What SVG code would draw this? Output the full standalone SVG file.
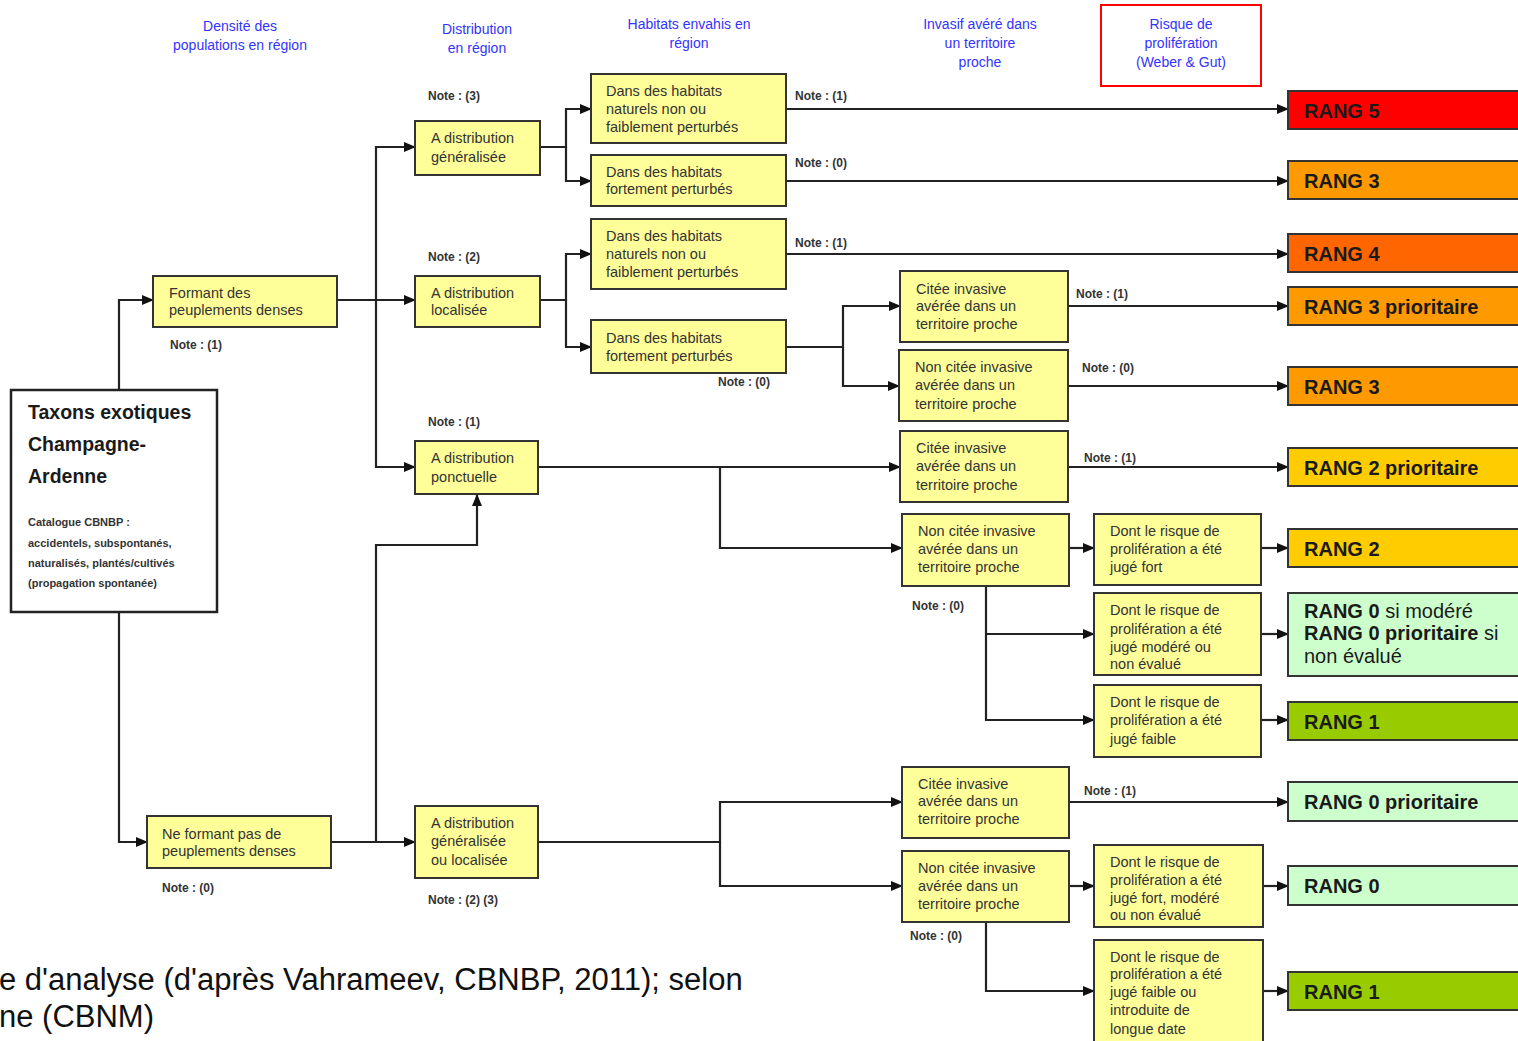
<svg xmlns="http://www.w3.org/2000/svg" width="1518" height="1041" viewBox="0 0 1518 1041">
<style>
.hdr{font-family:"Liberation Sans",Arial,sans-serif;font-size:14px;fill:#3333ff;text-anchor:middle}
.box{fill:#ffff99;stroke:#333;stroke-width:2}
.bt{font-family:"Liberation Sans",Arial,sans-serif;font-size:14.5px;fill:#333}
.note{font-family:"Liberation Sans",Arial,sans-serif;font-size:12px;font-weight:bold;fill:#333}
.rk{stroke:#333;stroke-width:2}
.rt{font-family:"Liberation Sans",Arial,sans-serif;font-size:20px;font-weight:bold;fill:#1a1a1a}
.rn{font-weight:normal}
.ln{fill:none;stroke:#222;stroke-width:2.2}
.ar{marker-end:url(#ah)}
.cap{font-family:"Liberation Sans",Arial,sans-serif;font-size:31px;fill:#111}
</style>
<defs>
<marker id="ah" markerUnits="userSpaceOnUse" markerWidth="12" markerHeight="12" viewBox="0 0 12 12" refX="11" refY="6" orient="auto">
<path d="M0,1 L12,6 L0,11 z" fill="#111"/>
</marker>
</defs>
<rect width="1518" height="1041" fill="#fff"/>

<g id="headers">
<text class="hdr" x="240" y="31">Densité des</text>
<text class="hdr" x="240" y="50">populations en région</text>
<text class="hdr" x="477" y="34">Distribution</text>
<text class="hdr" x="477" y="53">en région</text>
<text class="hdr" x="689" y="29">Habitats envahis en</text>
<text class="hdr" x="689" y="48">région</text>
<text class="hdr" x="980" y="29">Invasif avéré dans</text>
<text class="hdr" x="980" y="48">un territoire</text>
<text class="hdr" x="980" y="67">proche</text>
<rect x="1101" y="5" width="160" height="81" fill="none" stroke="#ff0000" stroke-width="2"/>
<text class="hdr" x="1181" y="29">Risque de</text>
<text class="hdr" x="1181" y="48">prolifération</text>
<text class="hdr" x="1181" y="67">(Weber &amp; Gut)</text>
</g>

<g id="connectors">
<path class="ln ar" d="M119,390 V300 H153"/>
<path class="ln ar" d="M119,612 V842 H147"/>
<path class="ln ar" d="M337,300 H415"/>
<path class="ln ar" d="M376,300 V147 H415"/>
<path class="ln ar" d="M376,300 V467 H415"/>
<path class="ln ar" d="M331,842 H415"/>
<path class="ln ar" d="M376,842 V545 H477 V495"/>
<path class="ln ar" d="M540,147 H566 V109 H591"/>
<path class="ln ar" d="M566,147 V181 H591"/>
<path class="ln ar" d="M540,300 H566 V254 H591"/>
<path class="ln ar" d="M566,300 V347 H591"/>
<path class="ln ar" d="M786,109 H1288"/>
<path class="ln ar" d="M786,181 H1288"/>
<path class="ln ar" d="M786,254 H1288"/>
<path class="ln ar" d="M786,347 H843 V306 H900"/>
<path class="ln ar" d="M843,347 V386 H899"/>
<path class="ln ar" d="M1068,306 H1288"/>
<path class="ln ar" d="M1068,386 H1288"/>
<path class="ln ar" d="M1068,467 H1288"/>
<path class="ln ar" d="M538,467 H900"/>
<path class="ln ar" d="M720,467 V548 H902"/>
<path class="ln ar" d="M538,842 H720 V802 H902"/>
<path class="ln ar" d="M720,842 V886 H902"/>
<path class="ln ar" d="M1069,802 H1288"/>
<path class="ln ar" d="M1069,548 H1094"/>
<path class="ln ar" d="M986,586 V720 H1094"/>
<path class="ln ar" d="M986,634 H1094"/>
<path class="ln ar" d="M1069,886 H1094"/>
<path class="ln ar" d="M986,922 V991 H1094"/>
<path class="ln ar" d="M1261,548 H1288"/>
<path class="ln ar" d="M1261,634 H1288"/>
<path class="ln ar" d="M1261,720 H1288"/>
<path class="ln ar" d="M1263,886 H1288"/>
<path class="ln ar" d="M1263,991 H1288"/>
</g>

<g id="notes">
<text class="note" x="428" y="100">Note : (3)</text>
<text class="note" x="428" y="261">Note : (2)</text>
<text class="note" x="428" y="426">Note : (1)</text>
<text class="note" x="428" y="904">Note : (2) (3)</text>
<text class="note" x="170" y="349">Note : (1)</text>
<text class="note" x="162" y="892">Note : (0)</text>
<text class="note" x="795" y="100">Note : (1)</text>
<text class="note" x="795" y="167">Note : (0)</text>
<text class="note" x="795" y="247">Note : (1)</text>
<text class="note" x="718" y="386">Note : (0)</text>
<text class="note" x="1076" y="298">Note : (1)</text>
<text class="note" x="1082" y="372">Note : (0)</text>
<text class="note" x="1084" y="462">Note : (1)</text>
<text class="note" x="912" y="610">Note : (0)</text>
<text class="note" x="1084" y="795">Note : (1)</text>
<text class="note" x="910" y="940">Note : (0)</text>
</g>

<g id="taxons">
<rect x="11" y="390" width="206" height="222" fill="#fff" stroke="#222" stroke-width="2.5"/>
<text x="28" y="419" font-family="Liberation Sans,Arial,sans-serif" font-size="19.5" font-weight="bold" fill="#1a1a1a">Taxons exotiques</text>
<text x="28" y="451" font-family="Liberation Sans,Arial,sans-serif" font-size="19.5" font-weight="bold" fill="#1a1a1a">Champagne-</text>
<text x="28" y="483" font-family="Liberation Sans,Arial,sans-serif" font-size="19.5" font-weight="bold" fill="#1a1a1a">Ardenne</text>
<text x="28" y="526" font-family="Liberation Sans,Arial,sans-serif" font-size="11" font-weight="bold" fill="#333">Catalogue CBNBP :</text>
<text x="28" y="547" font-family="Liberation Sans,Arial,sans-serif" font-size="11" font-weight="bold" fill="#333">accidentels, subspontanés,</text>
<text x="28" y="567" font-family="Liberation Sans,Arial,sans-serif" font-size="11" font-weight="bold" fill="#333">naturalisés, plantés/cultivés</text>
<text x="28" y="587" font-family="Liberation Sans,Arial,sans-serif" font-size="11" font-weight="bold" fill="#333">(propagation  spontanée)</text>
</g>

<g id="formant">
<rect class="box" x="153" y="276" width="184" height="51"/>
<text class="bt" x="169" y="298">Formant des</text>
<text class="bt" x="169" y="315">peuplements denses</text>
</g>
<g id="neformant">
<rect class="box" x="147" y="816" width="184" height="52"/>
<text class="bt" x="162" y="839">Ne formant pas de</text>
<text class="bt" x="162" y="856">peuplements denses</text>
</g>

<g id="dist-gen">
<rect class="box" x="415" y="121" width="125" height="54"/>
<text class="bt" x="431" y="143">A distribution</text>
<text class="bt" x="431" y="162">généralisée</text>
</g>
<g id="dist-loc">
<rect class="box" x="415" y="276" width="125" height="51"/>
<text class="bt" x="431" y="298">A distribution</text>
<text class="bt" x="431" y="315">localisée</text>
</g>
<g id="dist-ponct">
<rect class="box" x="415" y="441" width="123" height="53"/>
<text class="bt" x="431" y="463">A distribution</text>
<text class="bt" x="431" y="482">ponctuelle</text>
</g>
<g id="dist-genloc">
<rect class="box" x="415" y="806" width="123" height="72"/>
<text class="bt" x="431" y="828">A distribution</text>
<text class="bt" x="431" y="846">généralisée</text>
<text class="bt" x="431" y="865">ou localisée</text>
</g>

<g id="hab1">
<rect class="box" x="591" y="74" width="195" height="69"/>
<text class="bt" x="606" y="96">Dans des habitats</text>
<text class="bt" x="606" y="114">naturels non ou</text>
<text class="bt" x="606" y="132">faiblement perturbés</text>
</g>
<g id="hab2">
<rect class="box" x="591" y="155" width="195" height="51"/>
<text class="bt" x="606" y="177">Dans des habitats</text>
<text class="bt" x="606" y="194">fortement perturbés</text>
</g>
<g id="hab3">
<rect class="box" x="591" y="219" width="195" height="70"/>
<text class="bt" x="606" y="241">Dans des habitats</text>
<text class="bt" x="606" y="259">naturels non ou</text>
<text class="bt" x="606" y="277">faiblement perturbés</text>
</g>
<g id="hab4">
<rect class="box" x="591" y="320" width="195" height="53"/>
<text class="bt" x="606" y="343">Dans des habitats</text>
<text class="bt" x="606" y="361">fortement perturbés</text>
</g>

<g id="cit1">
<rect class="box" x="900" y="271" width="168" height="71"/>
<text class="bt" x="916" y="294">Citée invasive</text>
<text class="bt" x="916" y="311">avérée dans un</text>
<text class="bt" x="916" y="329">territoire proche</text>
</g>
<g id="non1">
<rect class="box" x="899" y="350" width="169" height="71"/>
<text class="bt" x="915" y="372">Non citée invasive</text>
<text class="bt" x="915" y="390">avérée dans un</text>
<text class="bt" x="915" y="409">territoire proche</text>
</g>
<g id="cit2">
<rect class="box" x="900" y="431" width="168" height="71"/>
<text class="bt" x="916" y="453">Citée invasive</text>
<text class="bt" x="916" y="471">avérée dans un</text>
<text class="bt" x="916" y="490">territoire proche</text>
</g>
<g id="non2">
<rect class="box" x="902" y="514" width="167" height="72"/>
<text class="bt" x="918" y="536">Non citée invasive</text>
<text class="bt" x="918" y="554">avérée dans un</text>
<text class="bt" x="918" y="572">territoire proche</text>
</g>
<g id="cit3">
<rect class="box" x="902" y="767" width="167" height="71"/>
<text class="bt" x="918" y="789">Citée invasive</text>
<text class="bt" x="918" y="806">avérée dans un</text>
<text class="bt" x="918" y="824">territoire proche</text>
</g>
<g id="non3">
<rect class="box" x="902" y="851" width="167" height="71"/>
<text class="bt" x="918" y="873">Non citée invasive</text>
<text class="bt" x="918" y="891">avérée dans un</text>
<text class="bt" x="918" y="909">territoire proche</text>
</g>

<g id="risk1">
<rect class="box" x="1094" y="514" width="167" height="71"/>
<text class="bt" x="1110" y="536">Dont le risque de</text>
<text class="bt" x="1110" y="554">prolifération a été</text>
<text class="bt" x="1110" y="572">jugé fort</text>
</g>
<g id="risk2">
<rect class="box" x="1094" y="593" width="167" height="82"/>
<text class="bt" x="1110" y="615">Dont le risque de</text>
<text class="bt" x="1110" y="634">prolifération a été</text>
<text class="bt" x="1110" y="652">jugé modéré ou</text>
<text class="bt" x="1110" y="669">non évalué</text>
</g>
<g id="risk3">
<rect class="box" x="1094" y="685" width="167" height="72"/>
<text class="bt" x="1110" y="707">Dont le risque de</text>
<text class="bt" x="1110" y="725">prolifération a été</text>
<text class="bt" x="1110" y="744">jugé faible</text>
</g>
<g id="risk4">
<rect class="box" x="1094" y="845" width="169" height="82"/>
<text class="bt" x="1110" y="867">Dont le risque de</text>
<text class="bt" x="1110" y="885">prolifération a été</text>
<text class="bt" x="1110" y="903">jugé fort, modéré</text>
<text class="bt" x="1110" y="920">ou non évalué</text>
</g>
<g id="risk5">
<rect class="box" x="1094" y="940" width="169" height="106"/>
<text class="bt" x="1110" y="962">Dont le risque de</text>
<text class="bt" x="1110" y="979">prolifération a été</text>
<text class="bt" x="1110" y="997">jugé faible ou</text>
<text class="bt" x="1110" y="1015">introduite de</text>
<text class="bt" x="1110" y="1034">longue date</text>
</g>

<g id="rang5"><rect class="rk" x="1288" y="91" width="240" height="38" fill="#ff0000"/><text class="rt" x="1304" y="118">RANG 5</text></g>
<g id="rang3a"><rect class="rk" x="1288" y="161" width="240" height="38" fill="#ff9900"/><text class="rt" x="1304" y="188">RANG 3</text></g>
<g id="rang4"><rect class="rk" x="1288" y="234" width="240" height="38" fill="#ff6600"/><text class="rt" x="1304" y="261">RANG 4</text></g>
<g id="rang3p"><rect class="rk" x="1288" y="287" width="240" height="38" fill="#ff9900"/><text class="rt" x="1304" y="314">RANG 3 prioritaire</text></g>
<g id="rang3b"><rect class="rk" x="1288" y="367" width="240" height="38" fill="#ff9900"/><text class="rt" x="1304" y="394">RANG 3</text></g>
<g id="rang2p"><rect class="rk" x="1288" y="448" width="240" height="38" fill="#ffcc00"/><text class="rt" x="1304" y="475">RANG 2 prioritaire</text></g>
<g id="rang2"><rect class="rk" x="1288" y="529" width="240" height="38" fill="#ffcc00"/><text class="rt" x="1304" y="556">RANG 2</text></g>
<g id="rang0m"><rect class="rk" x="1288" y="593" width="240" height="83" fill="#ccffcc"/>
<text class="rt" x="1304" y="618">RANG 0<tspan class="rn"> si modéré</tspan></text>
<text class="rt" x="1304" y="640">RANG 0 prioritaire<tspan class="rn"> si</tspan></text>
<text class="rt" x="1304" y="663"><tspan class="rn">non évalué</tspan></text></g>
<g id="rang1a"><rect class="rk" x="1288" y="702" width="240" height="38" fill="#99cc00"/><text class="rt" x="1304" y="729">RANG 1</text></g>
<g id="rang0p"><rect class="rk" x="1288" y="782" width="240" height="39" fill="#ccffcc"/><text class="rt" x="1304" y="809">RANG 0 prioritaire</text></g>
<g id="rang0"><rect class="rk" x="1288" y="866" width="240" height="39" fill="#ccffcc"/><text class="rt" x="1304" y="893">RANG 0</text></g>
<g id="rang1b"><rect class="rk" x="1288" y="972" width="240" height="38" fill="#99cc00"/><text class="rt" x="1304" y="999">RANG 1</text></g>

<g id="caption">
<text class="cap" x="-1" y="990">e d'analyse (d'après Vahrameev, CBNBP, 2011); selon</text>
<text class="cap" x="-1" y="1027">ne (CBNM)</text>
</g>
</svg>
